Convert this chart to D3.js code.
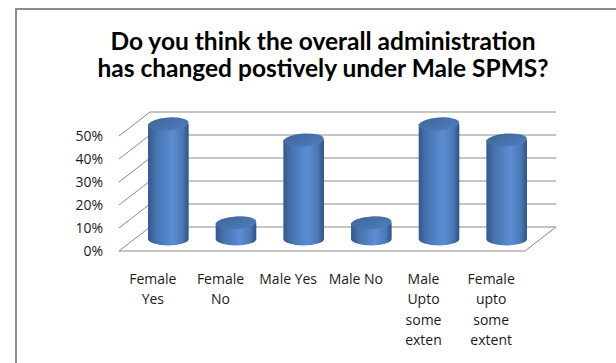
<!DOCTYPE html>
<html>
<head>
<meta charset="utf-8">
<script src="https://cdn.jsdelivr.net/npm/d3@7"></script>
<style>
  body { margin: 0; background: #fff; }
  svg { display: block; }
</style>
</head>
<body>
<script>
let categories = ['Female Yes', 'Female No', 'Male Yes', 'Male No', 'Male Upto some exten', 'Female upto some extent']
let values = [50, 7, 43, 7, 50, 43]
let ticks = [0, 10, 20, 30, 40, 50]
let titleLines = ['Do you think the overall administration', 'has changed postively under Male SPMS?']

let width = 616,
  height = 363

// front plane of the 3d box and depth offset
let x0 = 119, x1 = 525
let baseY = 251
let depthX = 31, depthY = -24

let svg = d3.select('body')
  .append('svg')
  .attr('width', width)
  .attr('height', height)

// chart frame, runs off the right and bottom
svg.append('rect')
  .attr('x', 16)
  .attr('y', 9)
  .attr('width', 700)
  .attr('height', 400)
  .attr('fill', 'none')
  .attr('stroke', '#8c8c8c')
  .attr('stroke-width', 2)

let defs = svg.append('defs')
let grad = defs.append('linearGradient')
  .attr('id', 'cyl')
  .attr('x1', '0%').attr('x2', '100%')
  .attr('y1', '0%').attr('y2', '0%')
grad.append('stop').attr('offset', '0%').attr('stop-color', '#34598a')
grad.append('stop').attr('offset', '20%').attr('stop-color', '#4673b0')
grad.append('stop').attr('offset', '60%').attr('stop-color', '#5b8ed4')
grad.append('stop').attr('offset', '85%').attr('stop-color', '#4a78b6')
grad.append('stop').attr('offset', '100%').attr('stop-color', '#2f5282')

let topGrad = defs.append('linearGradient')
  .attr('id', 'cyltop')
  .attr('x1', '0%').attr('x2', '100%')
  .attr('y1', '0%').attr('y2', '100%')
topGrad.append('stop').attr('offset', '0%').attr('stop-color', '#3d6598')
topGrad.append('stop').attr('offset', '100%').attr('stop-color', '#4f7fbf')

let title = svg.append('text')
  .attr('x', 323)
  .attr('text-anchor', 'middle')
  .attr('font-family', 'Lato, sans-serif')
  .attr('font-weight', 'bold')
  .attr('font-size', '24.5px')
  .attr('fill', '#000')

titleLines.forEach((t, i) => {
  title.append('tspan')
    .attr('x', 323)
    .attr('y', 50 + i * 27)
    .text(t)
})

let xScale = d3.scaleBand()
  .domain(categories)
  .range([x0, x1])

let yScale = d3.scaleLinear()
  .domain([0, 50])
  .range([0, 115])

let grid = svg.append('g')
  .attr('fill', 'none')
  .attr('stroke', '#8a8a8a')
  .attr('stroke-width', 1)

ticks.forEach(t => {
  let yf = baseY - yScale(t)
  grid.append('path')
    .attr('d', d3.line()([
      [x0, yf],
      [x0 + depthX, yf + depthY],
      [x1 + depthX, yf + depthY]
    ]))
})

// floor
grid.append('path')
  .attr('d', d3.line()([
    [x0, baseY],
    [x1, baseY],
    [x1 + depthX, baseY + depthY]
  ]))

svg.append('g')
  .selectAll('text')
  .data(ticks)
  .enter()
  .append('text')
  .attr('x', 103)
  .attr('y', d => baseY - yScale(d))
  .attr('dy', '0.35em')
  .attr('text-anchor', 'end')
  .attr('font-family', 'Open Sans, sans-serif')
  .attr('font-size', '14px')
  .attr('fill', '#1a1a1a')
  .text(d => d + '%')

// cylinders
let rx = xScale.bandwidth() * 0.3
let ry = 6.5
let midY = baseY + depthY / 2

let bars = svg.append('g')
  .selectAll('g')
  .data(categories.map((c, i) => ({ cat: c, v: values[i] })))
  .enter()
  .append('g')

bars.append('path')
  .attr('fill', 'url(#cyl)')
  .attr('d', d => {
    let cx = xScale(d.cat) + xScale.bandwidth() / 2 + depthX / 2
    let top = midY - yScale(d.v)
    return `M${cx - rx},${top} L${cx - rx},${midY} A${rx},${ry} 0 0 0 ${cx + rx},${midY} L${cx + rx},${top} Z`
  })

bars.append('ellipse')
  .attr('cx', d => xScale(d.cat) + xScale.bandwidth() / 2 + depthX / 2)
  .attr('cy', d => midY - yScale(d.v))
  .attr('rx', rx)
  .attr('ry', ry)
  .attr('fill', 'url(#cyltop)')
  .attr('transform', d => `rotate(-4, ${xScale(d.cat) + xScale.bandwidth() / 2 + depthX / 2}, ${midY - yScale(d.v)})`)

// category labels, wrapped to the band width
let labels = svg.append('g')
  .attr('font-family', 'Open Sans, sans-serif')
  .attr('font-size', '14px')
  .attr('fill', '#1a1a1a')
  .attr('text-anchor', 'middle')

categories.forEach(c => {
  let cx = xScale(c) + xScale.bandwidth() / 2
  let text = labels.append('text')
  let words = c.split(' ')
  let lines = []
  let line = []
  words.forEach(w => {
    let test = line.concat(w).join(' ')
    text.text(test)
    if (line.length && text.node().getComputedTextLength() > xScale.bandwidth() - 5) {
      lines.push(line.join(' '))
      line = [w]
    } else {
      line.push(w)
    }
  })
  lines.push(line.join(' '))
  text.text(null)
  lines.forEach((l, i) => {
    text.append('tspan')
      .attr('x', cx)
      .attr('y', 284 + i * 20.3)
      .text(l)
  })
})
</script>
</body>
</html>
